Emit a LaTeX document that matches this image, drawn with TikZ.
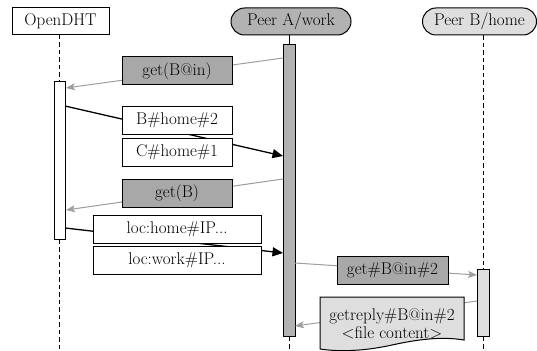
\documentclass[tikz,border=0pt]{standalone}
\usetikzlibrary{arrows.meta}
\definecolor{boxgray}{RGB}{168,168,168}
\definecolor{peergray}{RGB}{178,178,178}
\definecolor{lightfill}{RGB}{222,222,222}
\definecolor{msggray}{RGB}{158,158,158}
\begin{document}
\begin{tikzpicture}[x=1pt,y=-1pt,
  every node/.style={font=\fontsize{17}{17.5}\selectfont, inner sep=0pt},
  hdr/.style={draw, line width=1pt, minimum height=27pt},
  peer/.style={hdr, rounded corners=13.5pt},
  act/.style={draw, line width=1pt},
  lbl/.style={draw, line width=1pt, minimum height=28pt, fill=white},
  dlbl/.style={lbl, fill=boxgray},
  life/.style={line width=1pt, dash pattern=on 4.5pt off 3pt},
  callmsg/.style={line width=1.3pt, -{Triangle[length=10.5pt,width=9pt]}},
  graymsg/.style={draw=msggray, line width=1pt, -{Stealth[length=9pt,width=7pt,inset=2pt]}}]
\useasboundingbox (0,0) rectangle (537,350);
\coordinate (bottom) at (0,350);
% headers
\node[hdr, minimum width=97pt, fill=white] (odht) at (60.5,21) {OpenDHT};
\node[peer, minimum width=120pt, fill=peergray] (pA) at (291,21.5) {Peer A/work};
\node[peer, minimum width=114pt, fill=lightfill] (pB) at (479.5,21.5) {Peer B/home};
% activations
\node[act, fill=white, minimum width=11pt, minimum height=157pt] (actO) at (59.5,160.5) {};
\node[act, fill=peergray, minimum width=12pt, minimum height=291pt] (actA) at (289,190.5) {};
\node[act, fill=lightfill, minimum width=12pt, minimum height=67pt] (actB) at (483,302.5) {};
% lifelines
\draw[life] (actO.north |- odht.south) -- (actO.north);
\draw[life] (actO.south) -- (actO.south |- bottom);
\draw[line width=1pt] (actA.north |- pA.south) -- (actA.north);
\draw[life] (actA.south) -- (actA.south |- bottom);
\draw[life] (actB.north |- pB.south) -- (actB.north);
\draw[life] (actB.south) -- (actB.south |- bottom);
% message end points
\coordinate (m1s) at (283,58);  \coordinate (m1e) at (66,88);
\coordinate (m2s) at (65,106);  \coordinate (m2e) at (283,156);
\coordinate (m3s) at (283,179); \coordinate (m3e) at (66,210);
\coordinate (m4s) at (65,228);  \coordinate (m4e) at (283,253);
\coordinate (m5s) at (295,263); \coordinate (m5e) at (477,275);
\coordinate (m6s) at (477,301); \coordinate (m6e) at (295,326);
% messages
\draw[graymsg] (m1s) -- (m1e);
\draw[callmsg] (m2s) -- (m2e);
\draw[graymsg] (m3s) -- (m3e);
\draw[callmsg] (m4s) -- (m4e);
\draw[graymsg] (m5s) -- (m5e);
\draw[graymsg] (m6s) -- (m6e);
% labels
\node[dlbl, minimum width=110pt] (l1) at (177,71) {get(B@in)};
\node[lbl, minimum width=110pt] (l2a) at (177,120) {B\#home\#2};
\node[lbl, minimum width=110pt] (l2b) at (177,152) {C\#home\#1};
\node[dlbl, minimum width=110pt] (l3) at (177,193) {get(B)};
\node[lbl, minimum width=168pt] (l4a) at (177,229) {loc:home\#IP...};
\node[lbl, minimum width=168pt] (l4b) at (177,260) {loc:work\#IP...};
\node[dlbl, minimum width=111pt] (l5) at (392.5,270) {get\#B@in\#2};
\draw[line width=1pt, fill=lightfill] (320,297) -- (464,297) -- (464,340)
  .. controls (440,336) and (415,340) .. (392,345)
  .. controls (365,351) and (340,352) .. (320,349) -- cycle;
\node[align=center] (l6) at (392,324) {getreply\#B@in\#2\\\textless file content\textgreater};
\end{tikzpicture}
\end{document}
